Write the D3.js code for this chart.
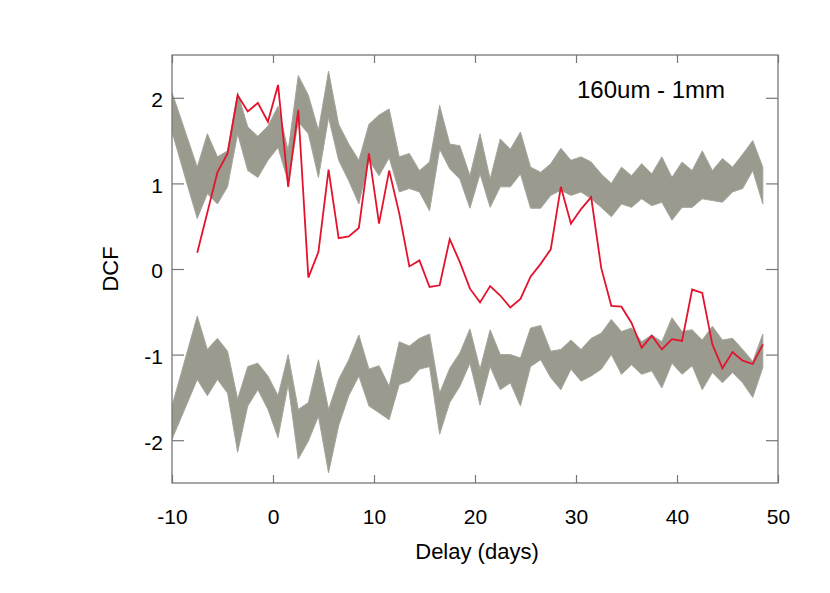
<!DOCTYPE html>
<html>
<head>
<meta charset="utf-8">
<script src="https://cdn.jsdelivr.net/npm/d3@7"></script>
<style>
  body { margin: 0; background: #fff; }
  text { font-family: "Liberation Sans", Arial, Helvetica, sans-serif; fill: #000; }
</style>
</head>
<body>
<div id="chart"></div>
<script>
// delay grid (days), half-day offsets
const bandDays = [-10.5,-9.5,-8.5,-7.5,-6.5,-5.5,-4.5,-3.5,-2.5,-1.5,-0.5,0.5,1.5,2.5,3.5,4.5,5.5,6.5,7.5,8.5,9.5,
  10.5,11.5,12.5,13.5,14.5,15.5,16.5,17.5,18.5,19.5,20.5,21.5,22.5,23.5,24.5,25.5,26.5,27.5,28.5,29.5,
  30.5,31.5,32.5,33.5,34.5,35.5,36.5,37.5,38.5,39.5,40.5,41.5,42.5,43.5,44.5,45.5,46.5,47.5,48.5]

// upper band of simulated DCFs (top / bottom edge)
const upperTop = [2.23,1.89,1.54,1.19,1.58,1.31,1.38,2.06,1.66,1.55,1.67,1.90,1.38,2.26,2.03,1.62,2.31,1.69,1.46,1.27,1.69,
  1.80,1.87,1.31,1.35,1.15,1.25,1.91,1.46,1.44,1.09,1.58,1.05,1.52,1.40,1.60,1.19,1.13,1.23,1.41,1.27,
  1.31,1.25,1.11,1.00,1.19,1.09,1.23,1.11,1.31,1.07,1.25,1.15,1.38,1.15,1.29,1.19,1.34,1.50,1.19]
const upperBottom = [1.80,1.40,0.99,0.59,0.88,0.76,0.96,1.58,1.15,1.07,1.27,1.42,1.02,1.72,1.58,1.07,1.77,1.27,1.03,0.76,1.27,
  1.09,1.30,0.90,0.94,0.90,0.68,1.40,1.17,1.05,0.71,1.11,0.72,0.96,0.96,1.11,0.71,0.71,0.86,0.92,0.86,
  0.90,0.82,0.72,0.61,0.76,0.72,0.82,0.74,0.78,0.57,0.72,0.72,0.82,0.80,0.78,0.90,0.94,1.15,0.76]

// lower band of simulated DCFs (top / bottom edge)
const lowerTop = [-1.81,-1.39,-0.97,-0.55,-0.94,-0.81,-0.96,-1.52,-1.14,-1.10,-1.25,-1.48,-1.00,-1.64,-1.56,-1.06,-1.64,-1.29,-1.06,-0.77,-1.17,
  -1.13,-1.37,-0.85,-0.90,-0.81,-0.76,-1.45,-1.16,-0.98,-0.70,-1.17,-0.71,-1.00,-1.00,-1.04,-0.69,-0.66,-0.96,-0.94,-0.83,
  -0.94,-0.81,-0.75,-0.59,-0.73,-0.69,-0.85,-0.77,-0.85,-0.57,-0.73,-0.71,-0.83,-0.67,-0.83,-0.81,-0.94,-1.08,-0.76]
const lowerBottom = [-2.13,-1.85,-1.57,-1.29,-1.48,-1.29,-1.45,-2.14,-1.60,-1.41,-1.64,-1.97,-1.35,-2.22,-2.01,-1.72,-2.38,-1.83,-1.48,-1.25,-1.60,
  -1.68,-1.76,-1.35,-1.31,-1.17,-1.14,-1.93,-1.56,-1.37,-1.10,-1.59,-1.14,-1.41,-1.33,-1.60,-1.14,-1.06,-1.27,-1.41,-1.17,
  -1.31,-1.25,-1.17,-1.00,-1.23,-1.12,-1.23,-1.19,-1.39,-1.10,-1.23,-1.13,-1.41,-1.21,-1.33,-1.21,-1.33,-1.50,-1.15]

// observed DCF
const dcfDays = bandDays.slice(3)
const dcfValues = [0.19,0.66,1.13,1.35,2.03,1.84,1.94,1.72,2.15,0.96,1.86,-0.10,0.20,1.16,0.36,0.38,0.48,1.35,
  0.53,1.15,0.65,0.03,0.10,-0.21,-0.19,0.35,0.08,-0.23,-0.39,-0.20,-0.31,-0.45,-0.35,-0.09,0.06,0.23,0.96,0.53,
  0.70,0.84,0.01,-0.43,-0.44,-0.63,-0.92,-0.78,-0.94,-0.82,-0.84,-0.24,-0.28,-0.88,-1.16,-0.97,-1.07,-1.11,-0.88]

const xTicks = [-10,0,10,20,30,40,50]
const yTicks = [-2,-1,0,1,2]
const label = "160um - 1mm"

function draw() {

//*************************1. Dimensions
  const dims = {
    width: 830,
    height: 593,
    margin: { top: 55, right: 52, bottom: 110, left: 172 }
  }
  dims.boundedWidth = dims.width - dims.margin.left - dims.margin.right
  dims.boundedHeight = dims.height - dims.margin.top - dims.margin.bottom

//*************************2. Wrapper and bounds
  const wrapper = d3.select("#chart").append("svg")
    .attr("width", dims.width)
    .attr("height", dims.height)

  const bounds = wrapper.append("g")
    .attr("transform", `translate(${dims.margin.left},${dims.margin.top})`)

  bounds.append("clipPath").attr("id", "plotClip")
    .append("rect")
    .attr("width", dims.boundedWidth)
    .attr("height", dims.boundedHeight)

//*************************3. Scales
  const xScale = d3.scaleLinear().domain([-10, 50]).range([0, dims.boundedWidth])
  const yScale = d3.scaleLinear().domain([-2.5, 2.5]).range([dims.boundedHeight, 0])

//*************************4. Bands
  const band = (tops, bottoms) => bandDays.map((d, i) => ({ day: d, top: tops[i], bottom: bottoms[i] }))
  const areaGenerator = d3.area()
    .x(d => xScale(d.day))
    .y0(d => yScale(d.bottom))
    .y1(d => yScale(d.top))

  const plot = bounds.append("g").attr("clip-path", "url(#plotClip)")

  plot.selectAll(".band")
    .data([band(upperTop, upperBottom), band(lowerTop, lowerBottom)])
    .join("path")
    .attr("class", "band")
    .attr("d", areaGenerator)
    .attr("fill", "#9a9a8e")
    .attr("stroke", "#a4a59a")
    .attr("stroke-width", 1)
    .attr("stroke-linejoin", "miter")

//*************************5. Observed DCF
  const lineGenerator = d3.line()
    .x((d, i) => xScale(dcfDays[i]))
    .y(d => yScale(d))

  plot.append("path")
    .datum(dcfValues)
    .attr("d", lineGenerator)
    .attr("fill", "none")
    .attr("stroke", "#e3132e")
    .attr("stroke-width", 1.8)
    .attr("stroke-linejoin", "miter")

//*************************6. Axes (ticks point inward)
  const plainFormat = d => String(d)   // hyphen minus like the original
  const tickFont = g => g.selectAll("text").style("font-size", "21px").attr("fill", "#000")
  const tickColor = g => {
    g.select(".domain").remove()
    g.selectAll("line").attr("stroke", "#777").attr("stroke-width", 1.2)
  }

  bounds.append("g")
    .attr("transform", `translate(0,${dims.boundedHeight})`)
    .call(d3.axisBottom(xScale).tickValues(xTicks).tickSize(-8).tickPadding(26.5).tickFormat(plainFormat))
    .call(tickColor).call(tickFont)

  bounds.append("g")
    .call(d3.axisTop(xScale).tickValues(xTicks).tickSize(-8).tickFormat(""))
    .call(tickColor)

  bounds.append("g")
    .call(d3.axisLeft(yScale).tickValues(yTicks).tickSize(-12).tickPadding(9).tickFormat(plainFormat))
    .call(tickColor).call(tickFont)
    .selectAll("text").attr("dy", "0.42em")

  bounds.append("g")
    .attr("transform", `translate(${dims.boundedWidth},0)`)
    .call(d3.axisRight(yScale).tickValues(yTicks).tickSize(-12).tickFormat(""))
    .call(tickColor)

  bounds.append("rect")
    .attr("width", dims.boundedWidth)
    .attr("height", dims.boundedHeight)
    .attr("fill", "none")
    .attr("stroke", "#777")
    .attr("stroke-width", 1.3)

//*************************7. Labels
  bounds.append("text")
    .attr("x", dims.boundedWidth / 2 + 2)
    .attr("y", dims.boundedHeight + 76)
    .attr("text-anchor", "middle")
    .style("font-size", "22px")
    .text("Delay (days)")

  bounds.append("text")
    .attr("transform", `translate(${118 - dims.margin.left},${dims.boundedHeight / 2}) rotate(-90)`)
    .attr("text-anchor", "middle")
    .style("font-size", "22px")
    .text("DCF")

  bounds.append("text")
    .attr("x", 577 - dims.margin.left)
    .attr("y", 98 - dims.margin.top)
    .style("font-size", "24px")
    .text(label)
}
draw()
</script>
</body>
</html>
